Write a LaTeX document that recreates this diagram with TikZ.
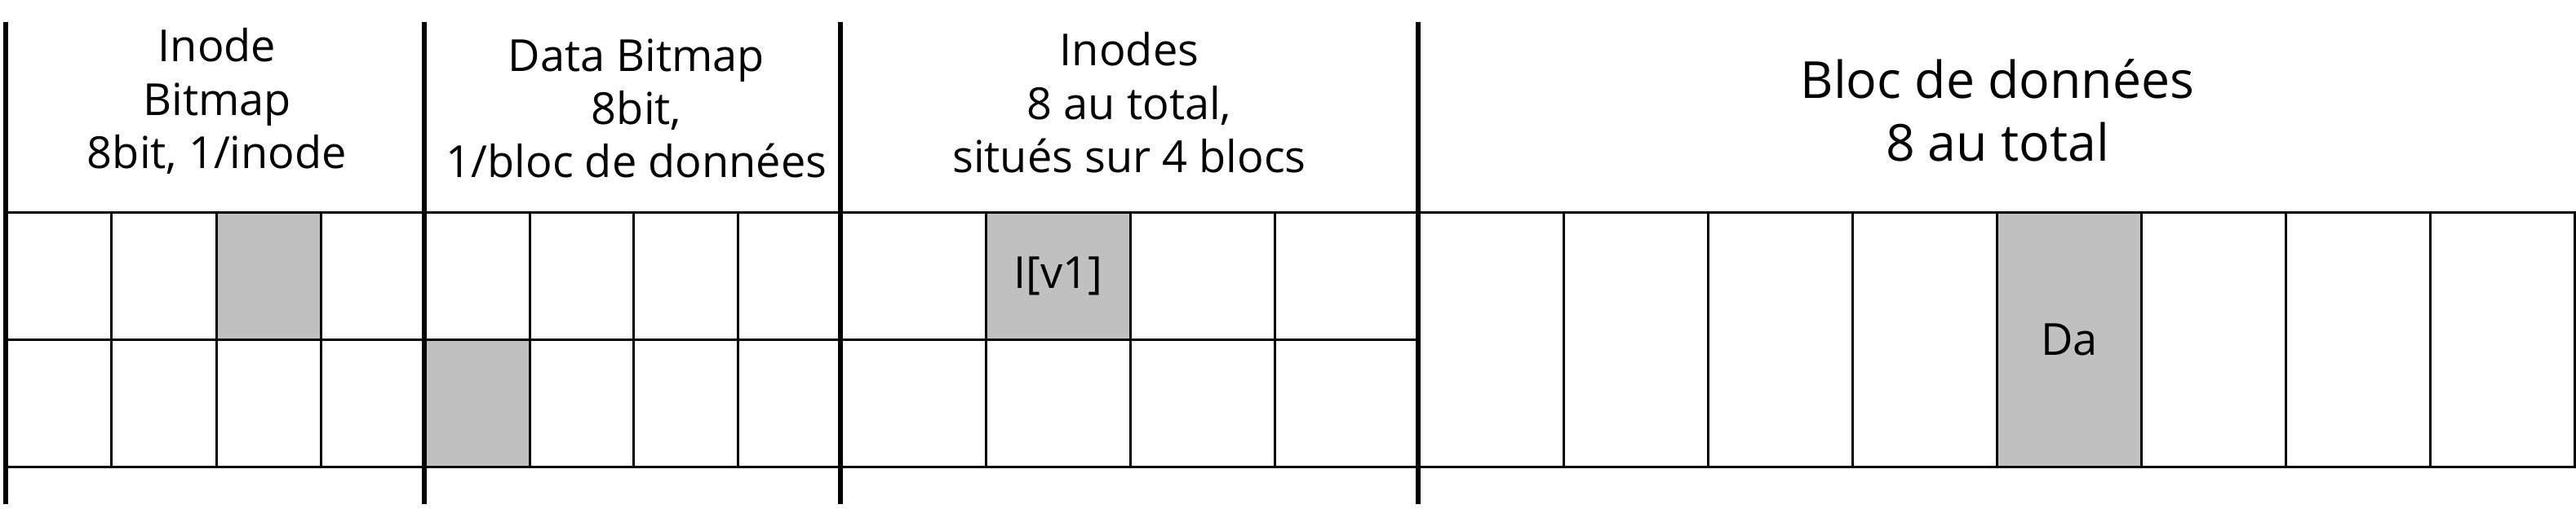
\documentclass[tikz,border=0pt]{standalone}
\usepackage{fontspec}
\setmainfont{Open Sans}
\usetikzlibrary{positioning,backgrounds}
\definecolor{used}{RGB}{192,192,192}

\begin{document}
\begin{tikzpicture}[
  cell/.style={draw,line width=0.9pt,anchor=north west,inner sep=0pt,minimum height=1.56cm},
  head/.style={align=center,font=\fontsize{15.4}{18.6}\selectfont},
  bighead/.style={align=center,font=\fontsize{17.8}{21.8}\selectfont},
  celltext/.style={font=\fontsize{15.4}{18.6}\selectfont},
  divider/.style={line width=1.5pt}]
\useasboundingbox (0,0) rectangle (31.57,6.23);
% inode bitmap, data bitmap, inodes: 2 rows of 4
\foreach \r in {1,2}
  \foreach \c in {1,...,4} {
    \node[cell,minimum width=1.2825cm] (ib\r\c) at ({0.07+(\c-1)*1.2825},{3.64-(\r-1)*1.56}) {};
    \node[cell,minimum width=1.275cm] (db\r\c) at ({5.2+(\c-1)*1.275},{3.64-(\r-1)*1.56}) {};
    \node[cell,minimum width=1.77cm] (in\r\c) at ({10.3+(\c-1)*1.77},{3.64-(\r-1)*1.56}) {};
  }
% data blocks
\foreach \c in {1,...,8}
  \node[cell,minimum width=1.77cm,minimum height=3.12cm] (d\c) at ({17.38+(\c-1)*1.77},3.64) {};
% used blocks
\begin{scope}[on background layer]
\fill[used] (ib13.north west) rectangle (ib13.south east);
\fill[used] (db21.north west) rectangle (db21.south east);
\fill[used] (in12.north west) rectangle (in12.south east);
\fill[used] (d5.north west) rectangle (d5.south east);
\end{scope}
\node[celltext] (v1) at (in12) {I[v1]};
\node[celltext] (da) at (d5) {Da};
% headers
\node[head] (ibhead) at (2.66,4.99) {Inode\\Bitmap\\8bit, 1/inode};
\node[head] (dbhead) at (7.80,4.90) {Data Bitmap\\8bit,\\1/bloc de données};
\node[head] (inhead) at (13.84,4.97) {Inodes\\8 au total,\\situés sur 4 blocs};
\node[bighead] (dhead) at (24.48,4.875) {Bloc de données\\8 au total};
\foreach \x in {0.07,5.2,10.3,17.38}
  \draw[divider] (\x,0.05) -- (\x,5.96);
\end{tikzpicture}
\end{document}
